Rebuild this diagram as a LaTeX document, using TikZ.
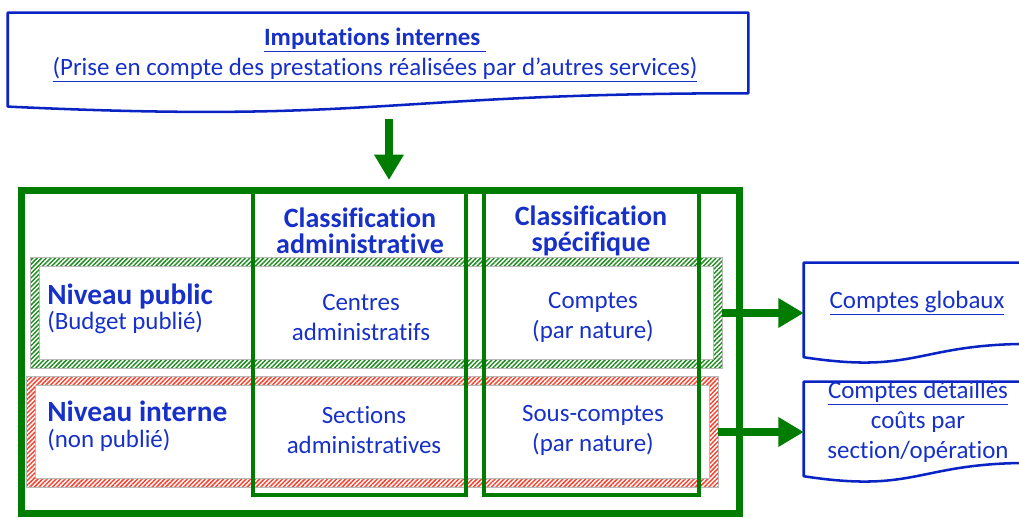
\documentclass[tikz,border=0pt]{standalone}
\usepackage{fontspec}
\setmainfont{Carlito}[Ligatures=NoCommon]
\usetikzlibrary{patterns.meta,arrows.meta,positioning,calc}

\definecolor{txtblue}{RGB}{22,48,200}
\definecolor{docblue}{RGB}{10,36,196}
\definecolor{framegreen}{RGB}{0,124,0}
\definecolor{hatchgreen}{RGB}{30,140,30}
\definecolor{hatchred}{RGB}{250,65,45}

\tikzset{
  body/.style={text=txtblue, font=\fontsize{18.7}{22.5}\selectfont, align=center},
  headtxt/.style={text=txtblue, font=\bfseries\fontsize{21}{19.5}\selectfont, align=center},
  leveltxt/.style={text=txtblue, anchor=base west, inner sep=0pt},
  docbox/.style={body, inner sep=0pt, minimum width=#1},
  colframe/.style={draw=framegreen, line width=2.3pt, inner sep=0pt},
  rowband/.style={inner sep=0pt, minimum width=518.25pt, minimum height=82.5pt},
  docline/.style={draw=docblue, line width=1.9pt, line join=round},
  fatarrow/.style={draw=framegreen, line width=6pt, -{Triangle[length=19pt,width=21pt]}},
}

% document shape with wavy bottom
\newcommand{\docoutline}[1]{%
  \draw[docline] (#1.north west) -- (#1.north east) -- (#1.south east)
    .. controls (#1.south) and ($(#1.south)+(0,-23pt)$) .. ($(#1.south west)+(0,-10pt)$) -- cycle;}

% hatched band round a row
\newcommand{\hatchband}[3]{%
  \fill[pattern={Lines[angle=45,distance=2.4pt,line width=1.1pt]}, pattern color=#2, even odd rule]
    (#1.north west) rectangle (#1.south east)
    ($(#1.north west)+(#3,-#3)$) rectangle ($(#1.south east)+(-#3,#3)$);
  \draw[gray!55, line width=0.4pt] (#1.north west) rectangle (#1.south east)
    ($(#1.north west)+(#3,-#3)$) rectangle ($(#1.south east)+(-#3,#3)$);}

\begin{document}
\begin{tikzpicture}[x=0.75pt,y=-0.75pt]
  \useasboundingbox (0,0) rectangle (1019,517);

  % source document
  \node[docbox=555pt, minimum height=60pt] (imput) at (378,53) {};
  \docoutline{imput}
  \node[body, font=\bfseries\fontsize{18.7}{22.5}\selectfont] (imputtitle) at (375,40) {\underline{Imputations internes\ }};
  \node[body] (imputsub) at (375,70) {\underline{(Prise en compte des prestations réalisées par d’autres services)}};

  % rows
  \node[rowband] (pubrow) at (376.5,313) {};
  \node[rowband] (introw) at (372.5,432) {};
  \hatchband{pubrow}{hatchgreen}{6.75pt}
  \hatchband{introw}{hatchred}{6.4pt}

  % columns and frame
  \node[colframe, minimum width=159.75pt, minimum height=228.75pt] (admincol) at (359.5,342.5) {};
  \node[colframe, minimum width=161.25pt, minimum height=228.75pt] (speccol) at (591.5,342.5) {};
  \node[draw=framegreen, line width=5.25pt, inner sep=0pt,
        minimum width=538.5pt, minimum height=242.25pt] (cadre) at (380,351.5) {};

  % headers
  \node[headtxt] (adminhead) at (360,231) {Classification\\administrative};
  \node[headtxt] (spechead) at (591,231) {Classification\\spécifique};

  % level labels
  \node[leveltxt, font=\bfseries\fontsize{22}{24}\selectfont] (pubtitle) at (47,304) {Niveau public};
  \node[leveltxt, font=\fontsize{18.7}{22.5}\selectfont] (pubsub) at (47,329) {(Budget publié)};
  \node[leveltxt, font=\bfseries\fontsize{22}{24}\selectfont] (inttitle) at (47,421) {Niveau interne};
  \node[leveltxt, font=\fontsize{18.7}{22.5}\selectfont] (intsub) at (47,447) {(non publié)};

  % cells
  \node[body] (centres) at (361,317) {Centres\\administratifs};
  \node[body] (comptes) at (593,317) {Comptes\\(par nature)};
  \node[body] (sections) at (364,430) {Sections\\administratives};
  \node[body] (souscomptes) at (593,430) {Sous-comptes\\(par nature)};

  % target documents
  \node[docbox=169.5pt, minimum height=60.5pt] (globaux) at (917,303.3) {\underline{Comptes globaux}};
  \docoutline{globaux}
  \node[docbox=169.5pt, minimum height=60.5pt] (detail) at (917,422.3) {};
  \docoutline{detail}
  \node[body] (detailtxt) at (918,422) {\underline{Comptes détaillés}\\coûts par\\section/opération};

  % arrows
  \coordinate (drop) at (389,119);
  \draw[fatarrow] (drop) -- (drop |- 0,180);
  \draw[fatarrow] (pubrow.east) -- (pubrow.east -| globaux.west);
  \draw[fatarrow] (introw.east) -- (introw.east -| detail.west);
\end{tikzpicture}
\end{document}
